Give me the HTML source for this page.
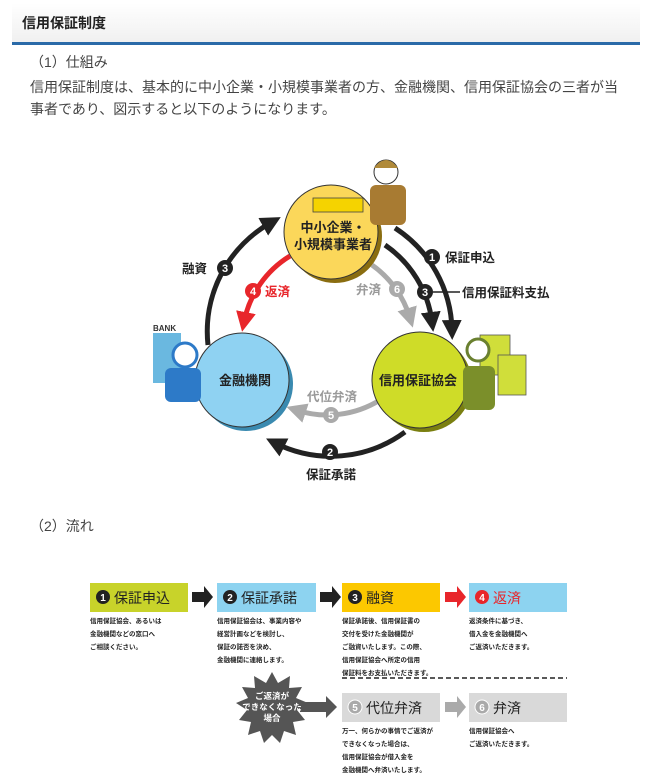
<!DOCTYPE html>
<html><head><meta charset="utf-8">
<style>
body{margin:0;width:651px;height:781px;background:#fff;font-family:"Liberation Sans","Noto Sans CJK JP",sans-serif;overflow:hidden;position:relative}
.hd{position:absolute;left:12px;top:3px;width:628px;height:39px;background:linear-gradient(#fff,#f0f0f0);border-bottom:3px solid #2a6aa8;}
.hd span{position:absolute;left:10px;top:10px;font-size:14px;font-weight:bold;color:#222}
.t{position:absolute;left:30px;font-size:14px;color:#444;white-space:nowrap}
svg{position:absolute;left:0;top:0}
</style></head><body>
<div class="hd"><span>信用保証制度</span></div>
<div class="t" style="top:52px">（1）仕組み</div>
<div class="t" style="top:77px">信用保証制度は、基本的に中小企業・小規模事業者の方、金融機関、信用保証協会の三者が当</div>
<div class="t" style="top:99px">事者であり、図示すると以下のようになります。</div>
<div class="t" style="top:516px">（2）流れ</div>
<svg width="651" height="781" font-family="Liberation Sans, Noto Sans CJK JP, sans-serif">
<defs>
<marker id="ab" markerWidth="4" markerHeight="4" refX="2" refY="2" orient="auto"><path d="M0,0 L4,2 L0,4 Z" fill="#222"/></marker>
<marker id="ar" markerWidth="4" markerHeight="4" refX="2" refY="2" orient="auto"><path d="M0,0 L4,2 L0,4 Z" fill="#e8262b"/></marker>
<marker id="ag" markerWidth="4" markerHeight="4" refX="2" refY="2" orient="auto"><path d="M0,0 L4,2 L0,4 Z" fill="#aaa"/></marker>
</defs>
<g fill="none" stroke-width="5">
<path d="M208,345 A125,125 0 0 1 272,222" stroke="#222" marker-end="url(#ab)"/>
<path d="M395,228 A125,125 0 0 1 452,330" stroke="#222" marker-end="url(#ab)"/>
<path d="M385,245 A110,110 0 0 1 432,322" stroke="#222" marker-end="url(#ab)"/>
<path d="M405,432 A125,125 0 0 1 275,443" stroke="#222" marker-end="url(#ab)"/>
<path d="M290,256 A100,100 0 0 0 244,322" stroke="#e8262b" marker-end="url(#ar)"/>
<path d="M372,265 A100,100 0 0 1 410,318" stroke="#aaa" marker-end="url(#ag)"/>
<path d="M380,400 A100,100 0 0 1 296,410" stroke="#aaa" marker-end="url(#ag)"/>
</g>
<circle cx="335" cy="236" r="47" fill="#8a6d10"/>
<circle cx="331" cy="232" r="47" fill="#fbd75a" stroke="#333" stroke-width="1"/>
<rect x="313" y="198" width="50" height="14" fill="#f5d300" stroke="#444" stroke-width=".8"/>
<circle cx="246" cy="384" r="47" fill="#3a8ab0"/>
<circle cx="242" cy="380" r="47" fill="#8fd2f2" stroke="#333" stroke-width="1"/>
<circle cx="424" cy="384" r="48" fill="#7a7f10"/>
<circle cx="420" cy="380" r="48" fill="#cfdc28" stroke="#333" stroke-width="1"/>
<g font-weight="bold" font-size="13" fill="#222" text-anchor="middle">
<text x="333" y="232">中小企業・</text><text x="333" y="249">小規模事業者</text>
<text x="245" y="385">金融機関</text>
<text x="418" y="385">信用保証協会</text>
</g>
<rect x="370" y="185" width="36" height="40" rx="6" fill="#a87b32"/>
<circle cx="386" cy="172" r="12" fill="#fff" stroke="#333"/>
<path d="M374,168 Q386,152 398,168 Z" fill="#b08a3a"/>
<rect x="153" y="333" width="28" height="50" fill="#6ab8e0"/>
<text x="153" y="331" font-size="8" font-weight="bold" fill="#333">BANK</text>
<rect x="165" y="368" width="36" height="34" rx="6" fill="#2d7ac8"/>
<circle cx="185" cy="355" r="12" fill="#fff" stroke="#2d7ac8" stroke-width="3"/>
<rect x="480" y="335" width="30" height="40" fill="#d0de3a" stroke="#555" stroke-width=".8"/>
<rect x="498" y="355" width="28" height="40" fill="#d0de3a" stroke="#555" stroke-width=".8"/>
<rect x="463" y="366" width="32" height="44" rx="6" fill="#7b8f2a"/>
<circle cx="478" cy="350" r="11" fill="#fff" stroke="#6a8030" stroke-width="3"/>
<g font-weight="bold" font-size="11" text-anchor="middle" fill="#fff">
<circle cx="225" cy="268" r="8" fill="#222"/><text x="225" y="272">3</text>
<circle cx="432" cy="257" r="8" fill="#222"/><text x="432" y="261">1</text>
<circle cx="425" cy="292" r="8" fill="#222"/><text x="425" y="296">3</text>
<circle cx="330" cy="452" r="8" fill="#222"/><text x="330" y="456">2</text>
<circle cx="253" cy="291" r="8" fill="#e8262b"/><text x="253" y="295">4</text>
<circle cx="397" cy="289" r="8" fill="#aaa"/><text x="397" y="293">6</text>
<circle cx="331" cy="415" r="8" fill="#aaa"/><text x="331" y="419">5</text>
</g>
<line x1="433" y1="292" x2="460" y2="292" stroke="#222" stroke-width="1.5"/>
<g font-size="12.5" font-weight="bold" fill="#222">
<text x="182" y="273">融資</text>
<text x="445" y="262">保証申込</text>
<text x="462" y="297">信用保証料支払</text>
<text x="306" y="479">保証承諾</text>
<text x="265" y="296" fill="#e8262b">返済</text>
<text x="356" y="294" fill="#999">弁済</text>
<text x="307" y="401" fill="#999">代位弁済</text>
</g>
<g font-size="13">
<rect x="90" y="583" width="98" height="29" fill="#c8d32a"/>
<rect x="217" y="583" width="99" height="29" fill="#8dd3f0"/>
<rect x="342" y="583" width="98" height="29" fill="#fcc800"/>
<rect x="469" y="583" width="98" height="29" fill="#8dd3f0"/>
<rect x="342" y="693" width="98" height="29" fill="#d9d9d9"/>
<rect x="469" y="693" width="98" height="29" fill="#d9d9d9"/>
<g text-anchor="middle" font-weight="bold" font-size="10" fill="#fff">
<circle cx="103" cy="597" r="7" fill="#222"/><text x="103" y="601">1</text>
<circle cx="230" cy="597" r="7" fill="#222"/><text x="230" y="601">2</text>
<circle cx="355" cy="597" r="7" fill="#222"/><text x="355" y="601">3</text>
<circle cx="482" cy="597" r="7" fill="#e8262b"/><text x="482" y="601">4</text>
<circle cx="355" cy="707" r="7" fill="#aaa" stroke="#fff"/><text x="355" y="711">5</text>
<circle cx="482" cy="707" r="7" fill="#aaa" stroke="#fff"/><text x="482" y="711">6</text>
</g>
<g font-size="14" fill="#222">
<text x="114" y="603">保証申込</text><text x="241" y="603">保証承諾</text><text x="366" y="603">融資</text>
<text x="493" y="603" fill="#e8262b">返済</text>
<text x="366" y="713">代位弁済</text><text x="493" y="713">弁済</text>
</g>
<path d="M192,592 h12 v-6 l9,11 l-9,11 v-6 h-12 z" fill="#222"/>
<path d="M320,592 h12 v-6 l9,11 l-9,11 v-6 h-12 z" fill="#222"/>
<path d="M445,592 h12 v-6 l9,11 l-9,11 v-6 h-12 z" fill="#e8262b"/>
<path d="M445,702 h12 v-6 l9,11 l-9,11 v-6 h-12 z" fill="#aaa"/>
<path d="M300,702 h26 v-6 l11,11 l-11,11 v-6 h-26 z" fill="#555"/>
<line x1="342" y1="678" x2="567" y2="678" stroke="#222" stroke-width="1.5" stroke-dasharray="5,3"/>
<polygon points="272,672 278,683 290,676 289,688 302,687 296,698 308,703 297,710 305,720 293,722 296,735 284,731 280,743 272,735 264,743 260,731 248,735 251,722 239,720 247,710 236,703 248,698 242,687 255,688 254,676 266,683" fill="#555"/>
<g font-size="8.5" font-weight="bold" fill="#fff" text-anchor="middle">
<text x="272" y="699">ご返済が</text><text x="272" y="710">できなくなった</text><text x="272" y="721">場合</text>
</g>
<g font-size="6.5" font-weight="bold" fill="#222">
<text x="90" y="623">信用保証協会、あるいは</text><text x="90" y="636">金融機関などの窓口へ</text><text x="90" y="649">ご相談ください。</text>
<text x="217" y="623">信用保証協会は、事業内容や</text><text x="217" y="636">経営計画などを検討し、</text><text x="217" y="649">保証の諾否を決め、</text><text x="217" y="662">金融機関に連絡します。</text>
<text x="342" y="623">保証承諾後、信用保証書の</text><text x="342" y="636">交付を受けた金融機関が</text><text x="342" y="649">ご融資いたします。この際、</text><text x="342" y="662">信用保証協会へ所定の信用</text><text x="342" y="675">保証料をお支払いただきます。</text>
<text x="469" y="623">返済条件に基づき、</text><text x="469" y="636">借入金を金融機関へ</text><text x="469" y="649">ご返済いただきます。</text>
<text x="342" y="733">万一、何らかの事情でご返済が</text><text x="342" y="746">できなくなった場合は、</text><text x="342" y="759">信用保証協会が借入金を</text><text x="342" y="772">金融機関へ弁済いたします。</text>
<text x="469" y="733">信用保証協会へ</text><text x="469" y="746">ご返済いただきます。</text>
</g>
</g>
</svg>
</body></html>
